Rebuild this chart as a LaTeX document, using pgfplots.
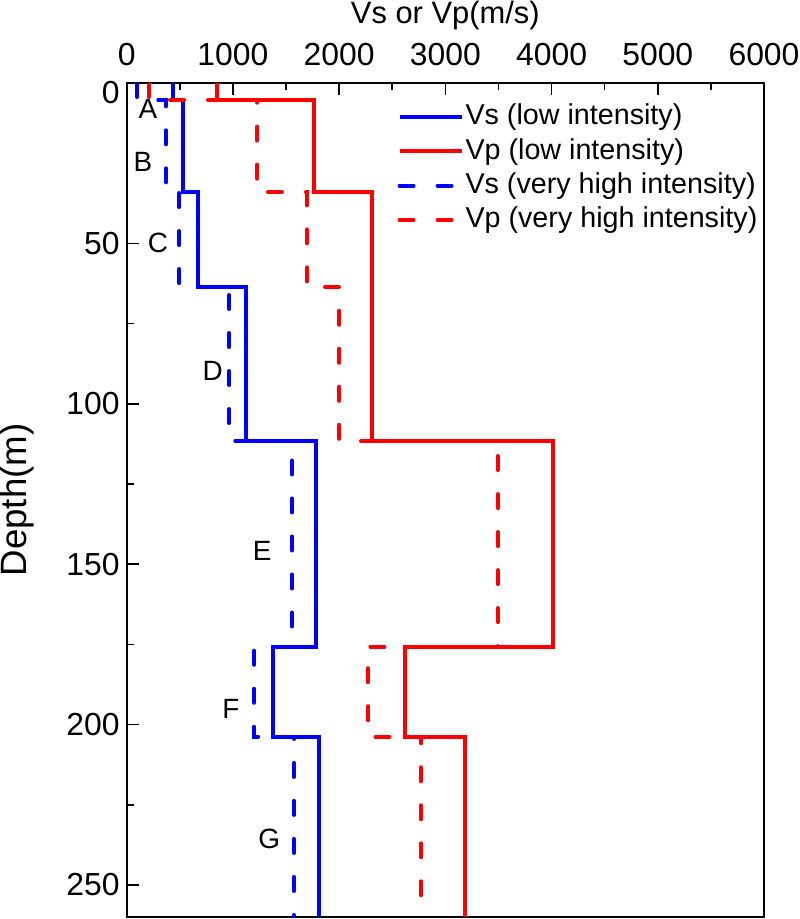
\documentclass[border=0pt]{standalone}
\usepackage{fontspec}
\setmainfont{Liberation Sans}
\usepackage{pgfplots}
\pgfplotsset{compat=1.18}
\begin{document}
\begin{tikzpicture}
\useasboundingbox (0,0) rectangle (400bp,459.5bp);
\begin{axis}[
  at={(63.35bp,1bp)}, anchor=south west,
  width=318.65bp, height=417bp, scale only axis,
  xmin=0, xmax=6000, ymin=0, ymax=260, y dir=reverse,
  xtick={0,1000,...,6000}, ytick={50,100,...,250},
  extra y ticks={0}, extra y tick style={yticklabel style={yshift=-4.7bp}},
  minor x tick num=1, minor y tick num=1,
  tick align=inside, xtick pos=right, xticklabel pos=right, ytick pos=left,
  major tick length=6bp, minor tick length=3.5bp,
  tick style={black, line width=0.8bp},
  axis line style={line width=1bp},
  /pgf/number format/assume math mode=true,
  /pgf/number format/1000 sep={},
  tick label style={font=\fontsize{16}{18}\selectfont},
  xticklabel style={yshift=5bp},
  xlabel={Vs or Vp(m/s)}, ylabel={Depth(m)},
  xlabel style={font=\fontsize{15.5}{18}\selectfont},
  ylabel style={font=\fontsize{18.4}{20}\selectfont,
    at={(axis description cs:0,0.5)}, anchor=center, yshift=54.6bp},
  legend style={draw=none, fill=none, inner sep=0pt, outer sep=0pt,
    at={(0.425,0.98)}, anchor=north west,
    font=\fontsize{14.4}{16}\selectfont,
    nodes={inner sep=1bp, text height=11.5bp, text depth=3.7bp}},
  legend cell align=left,
  legend image code/.code={\draw[#1] (0bp,0bp) -- (31bp,0bp);},
  every axis plot/.append style={line width=2bp},
  clip=true,
]
\addplot[blue] coordinates {(440,0)(440,5.3)(530,5.3)(530,34)(675,34)(675,63.6)(1123,63.6)(1123,111.6)(1780,111.6)(1780,175.7)(1380,175.7)(1380,203.8)(1815,203.8)(1815,260)};
\addlegendentry{Vs (low intensity)}
\addplot[red] coordinates {(850,0)(850,5.3)(1760,5.3)(1760,34)(2306,34)(2306,111.6)(4010,111.6)(4010,175.7)(2620,175.7)(2620,203.8)(3182,203.8)(3182,260)};
\addlegendentry{Vp (low intensity)}
\addplot[blue, dash pattern=on 7bp off 12bp, line cap=round] coordinates {(100,0)(100,5.3)(370,5.3)(370,34)(495,34)(495,63.6)(966,63.6)(966,111.6)(1555,111.6)(1555,175.7)(1200,175.7)(1200,203.8)(1575,203.8)(1575,260)};
\addlegendentry{Vs (very high intensity)}
\addplot[red, dash pattern=on 7bp off 12bp, line cap=round] coordinates {(210,0)(210,5.3)(1230,5.3)(1230,34)(1694,34)(1694,63.6)(2001,63.6)(2001,111.6)(3495,111.6)(3495,175.7)(2272,175.7)(2272,203.8)(2770,203.8)(2770,260)};
\addlegendentry{Vp (very high intensity)}
\begin{scope}[every node/.style={font=\fontsize{14}{16}\selectfont, inner sep=0pt}]
\node at (axis cs:200,8.1) {A};
\node at (axis cs:153,24.6) {B};
\node at (axis cs:295,49.8) {C};
\node at (axis cs:809,89.9) {D};
\node at (axis cs:1275,146) {E};
\node at (axis cs:982,195) {F};
\node at (axis cs:1342,235.6) {G};
\end{scope}
\end{axis}
\end{tikzpicture}
\end{document}
